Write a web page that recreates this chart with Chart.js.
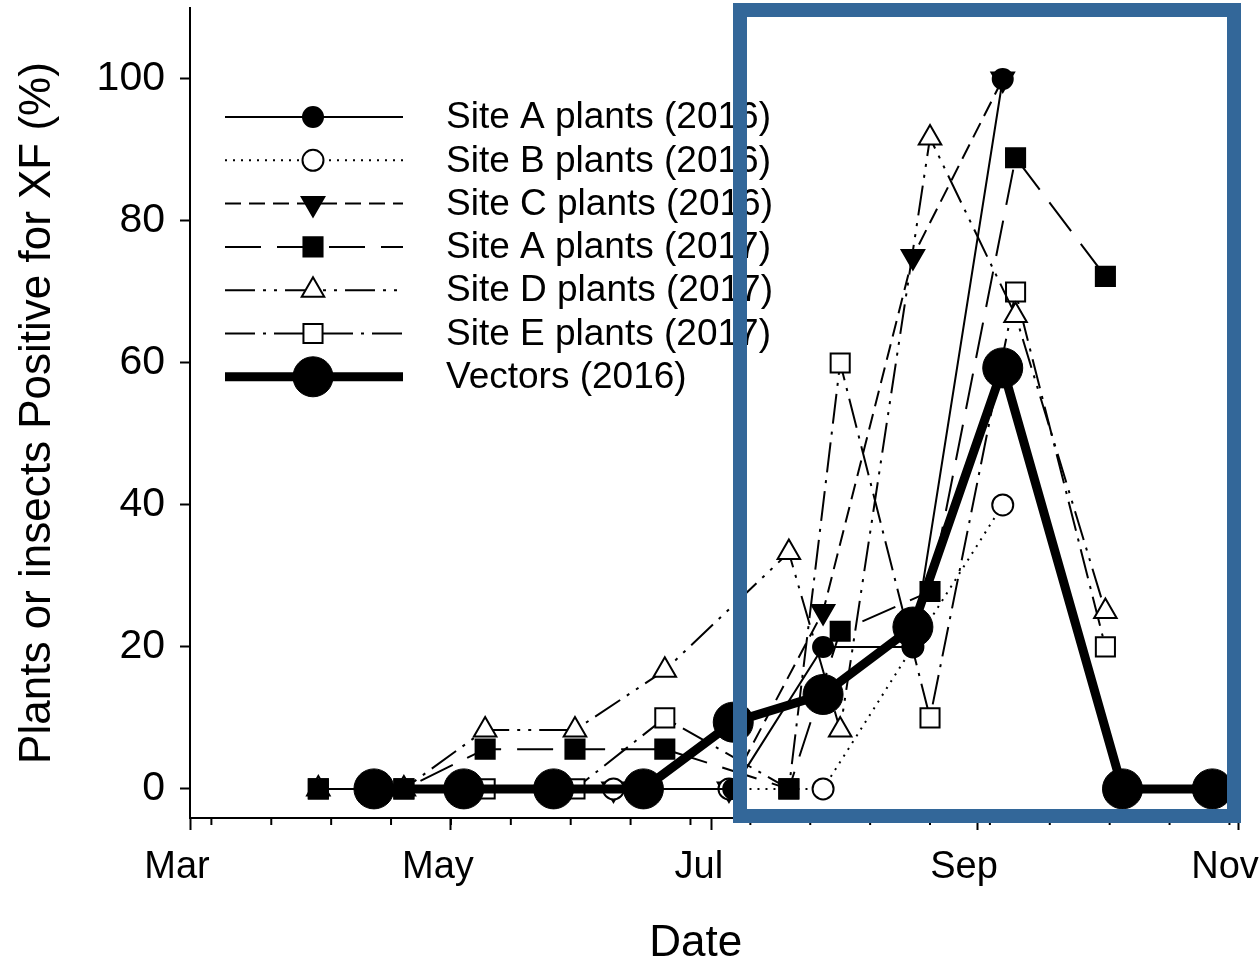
<!DOCTYPE html>
<html>
<head>
<meta charset="utf-8">
<script src="https://cdn.jsdelivr.net/npm/chart.js@4.4.1/dist/chart.umd.min.js"></script>
<style>
  html, body { margin: 0; padding: 0; background: #fff; }
  #wrap { position: relative; width: 1260px; height: 966px; }
  #frame {
    position: absolute; left: 733px; top: 3px; width: 508px; height: 820px;
    border: 14px solid #336799; box-sizing: border-box; pointer-events: none;
  }
</style>
</head>
<body>
<div id="wrap">
  <canvas id="chart" width="1260" height="966"></canvas>
  <div id="frame"></div>
</div>
<script>
// sampling dates as month-day, all put on one Mar–Nov axis
const vectorDates2016 = ['04-13', '05-04', '05-25', '06-15', '07-06', '07-27', '08-17', '09-07', '10-05', '10-26'];
const vectors2016 = [0, 0, 0, 0, 9.4, 13.3, 22.8, 59.3, 0, 0];

const siteA2016Dates = ['04-13', '05-04', '05-25', '06-15', '07-06', '07-27', '08-17', '09-07'];
const siteA2016 = [0, 0, 0, 0, 0, 20, 20, 100];

const plantDates2016 = ['06-08', '07-05', '07-27', '08-17', '09-07'];
const siteB2016 = [0, 0, 0, 20, 40];
const siteC2016 = [0, 0, 25, 75, 100];

const plantDates2017 = ['03-31', '04-20', '05-09', '05-30', '06-20', '07-19', '07-31', '08-21', '09-10', '10-01'];
const siteA2017 = [0, 0, 5.6, 5.6, 5.6, 0, 22.2, 27.8, 88.9, 72.2];
const siteD2017 = [0, 0, 8.3, 8.3, 16.7, 33.3, 8.3, 91.7, 66.7, 25];
const siteE2017 = [0, 0, 0, 0, 10, 0, 60, 10, 70, 20];

const monthLabels = ['Mar', 'May', 'Jul', 'Sep', 'Nov'];
const monthTickDates = ['03-01', '05-01', '07-01', '09-01', '11-01'];
const yTicks = [0, 20, 40, 60, 80, 100];

const FONT = '"Liberation Sans", Arial, sans-serif';

function dayOfYear(md) {
  const [m, d] = md.split('-').map(Number);
  return (Date.UTC(2017, m - 1, d) - Date.UTC(2017, 0, 1)) / 864e5 + 1;
}

function toPoints(dates, values) {
  return dates.map((d, i) => ({ x: dayOfYear(d), y: values[i] }));
}

// minor ticks every two weeks
const minorTickDays = [];
for (let d = 65; d < 305; d += 14) minorTickDays.push(d);

function series(label, dates, values, style) {
  return Object.assign({
    label: label,
    data: toPoints(dates, values),
    borderColor: '#000',
    borderWidth: 2,
    borderCapStyle: 'butt',
    pointBorderColor: '#000',
    pointBorderWidth: 2,
    pointRadius: 10,
    tension: 0,
    fill: false
  }, style);
}

const datasets = [
  series('Site A plants (2016)', siteA2016Dates, siteA2016, { pointStyle: 'circle', pointBackgroundColor: '#000', borderDash: [] }),
  series('Site B plants (2016)', plantDates2016, siteB2016, { pointStyle: 'circle', pointBackgroundColor: '#fff', pointRadius: 10.5, borderDash: [2, 6] }),
  series('Site C plants (2016)', plantDates2016, siteC2016, { pointStyle: 'triangle', pointRotation: 180, pointBackgroundColor: '#000', pointRadius: 13, borderDash: [16, 8] }),
  series('Site A plants (2017)', plantDates2017, siteA2017, { pointStyle: 'rect', pointBackgroundColor: '#000', pointRadius: 13.5, borderDash: [36, 16] }),
  series('Site D plants (2017)', plantDates2017, siteD2017, { pointStyle: 'triangle', pointBackgroundColor: '#fff', pointRadius: 13, borderDash: [30, 8, 3, 8, 3, 8] }),
  series('Site E plants (2017)', plantDates2017, siteE2017, { pointStyle: 'rect', pointBackgroundColor: '#fff', pointRadius: 13.5, borderDash: [30, 8, 3, 8] }),
  series('Vectors (2016)', vectorDates2016, vectors2016, { pointStyle: 'circle', pointBackgroundColor: '#000', pointRadius: 20, pointBorderWidth: 1, borderWidth: 9, order: -1 })
];

const lineLegend = {
  id: 'lineLegend',
  afterDatasetsDraw(chart) {
    const ctx = chart.ctx;
    chart.data.datasets.forEach((ds, i) => {
      const y = 117 + i * 43.3;
      ctx.save();
      ctx.strokeStyle = '#000';
      ctx.lineWidth = ds.borderWidth;
      ctx.setLineDash(ds.borderDash || []);
      ctx.beginPath();
      ctx.moveTo(225, y);
      ctx.lineTo(403, y);
      ctx.stroke();
      ctx.setLineDash([]);
      ctx.fillStyle = ds.pointBackgroundColor;
      ctx.strokeStyle = '#000';
      ctx.lineWidth = ds.pointBorderWidth;
      Chart.helpers.drawPoint(ctx, {
        pointStyle: ds.pointStyle,
        radius: ds.pointRadius,
        rotation: ds.pointRotation || 0,
        borderWidth: ds.pointBorderWidth
      }, 313, y);
      ctx.fillStyle = '#000';
      ctx.font = '37px ' + FONT;
      ctx.textBaseline = 'middle';
      ctx.textAlign = 'left';
      ctx.fillText(ds.label, 446, y + 1);
      ctx.restore();
    });
  }
};

const minorTicks = {
  id: 'minorTicks',
  afterDraw(chart) {
    const x = chart.scales.x;
    const ctx = chart.ctx;
    ctx.save();
    ctx.strokeStyle = '#000';
    ctx.lineWidth = 2;
    minorTickDays.forEach(d => {
      const px = x.getPixelForValue(d);
      ctx.beginPath();
      ctx.moveTo(px, x.top);
      ctx.lineTo(px, x.top + 7);
      ctx.stroke();
    });
    ctx.restore();
  }
};

Chart.defaults.font.family = FONT;
Chart.defaults.color = '#000';

new Chart(document.getElementById('chart'), {
  type: 'line',
  data: { datasets: datasets },
  plugins: [lineLegend, minorTicks],
  options: {
    responsive: false,
    animation: false,
    layout: { autoPadding: false, padding: { top: 8, right: 22, left: 0, bottom: 0 } },
    plugins: { legend: { display: false }, tooltip: { enabled: false } },
    scales: {
      x: {
        type: 'linear',
        min: dayOfYear('03-01'),
        max: dayOfYear('11-01'),
        afterBuildTicks: scale => { scale.ticks = monthTickDates.map(d => ({ value: dayOfYear(d) })); },
        afterFit: scale => {
          scale.height = 148;
          scale.paddingLeft = 0;
          scale.paddingRight = 0;
        },
        ticks: {
          callback: (v, i) => monthLabels[i],
          font: { size: 38 },
          padding: 15,
          labelOffset: -13,
          maxRotation: 0,
          autoSkip: false
        },
        grid: { drawOnChartArea: false, drawTicks: true, tickLength: 12, tickWidth: 2, tickColor: '#000' },
        border: { display: true, color: '#000', width: 2 },
        title: { display: true, text: 'Date   ', font: { size: 44, lineHeight: 1 }, padding: { top: 0, bottom: 0 } }
      },
      y: {
        min: -4.1,
        max: 110,
        afterBuildTicks: scale => { scale.ticks = yTicks.map(v => ({ value: v })); },
        afterFit: scale => {
          scale.width = 190;
          scale.paddingTop = 0;
          scale.paddingBottom = 0;
        },
        ticks: { font: { size: 41 }, padding: 15 },
        grid: { drawOnChartArea: false, drawTicks: true, tickLength: 10, tickWidth: 2, tickColor: '#000' },
        border: { display: true, color: '#000', width: 2 },
        title: { display: true, text: 'Plants or insects Positive for XF (%)', font: { size: 44, lineHeight: 1 }, padding: { top: 16, bottom: 0 } }
      }
    }
  }
});
</script>
</body>
</html>
